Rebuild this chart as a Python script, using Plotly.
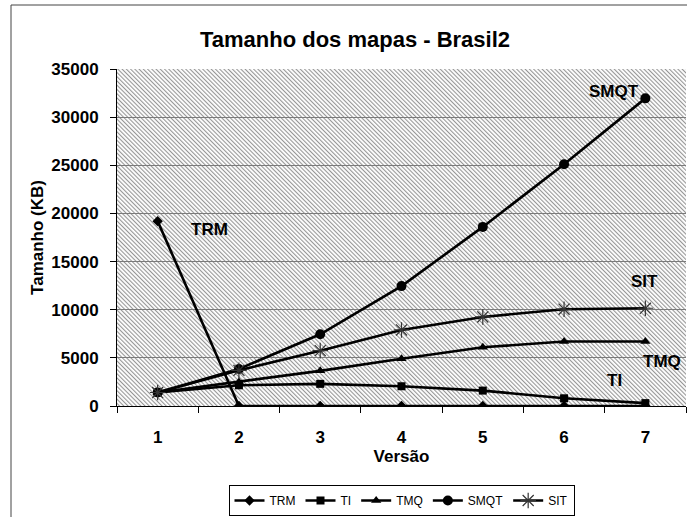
import base64
import plotly.graph_objects as go

versions = ["1", "2", "3", "4", "5", "6", "7"]
trm = [19200, 0, 0, 0, 0, 0, 0]
ti = [1400, 2150, 2300, 2050, 1600, 800, 300]
tmq = [1400, 2500, 3650, 4900, 6100, 6700, 6700]
smqt = [1400, 3850, 7450, 12450, 18600, 25100, 31950]
sit = [1400, 3700, 5750, 7900, 9250, 10050, 10150]

series_names = ["TRM", "TI", "TMQ", "SMQT", "SIT"]
series_values = [trm, ti, tmq, smqt, sit]
symbols = ["diamond", "square", "triangle-up", "circle", "asterisk-open"]
sizes = [8, 8, 9, 10, 13]

# label annotations: (text, category index, value)
labels = [("TRM", 0.64, 18300), ("SMQT", 5.62, 32700), ("SIT", 5.99, 12900),
          ("TMQ", 6.2, 4600), ("TI", 5.62, 2700)]

W, H = 687, 517
ML, MR, MT, MB = 117, 1, 69, 111
PW, PH = W - ML - MR, H - MT - MB

svg = (f'<svg xmlns="http://www.w3.org/2000/svg" width="{PW}" height="{PH}">'
       '<defs><pattern id="p" width="3" height="3" patternUnits="userSpaceOnUse" '
       'patternTransform="rotate(-45)"><rect width="3" height="3" fill="#ffffff"/>'
       '<rect width="1.1" height="3" fill="#969696"/></pattern></defs>'
       '<rect width="100%" height="100%" fill="url(#p)"/></svg>')
hatch = "data:image/svg+xml;base64," + base64.b64encode(svg.encode()).decode()

fig = go.Figure()
for name, vals, sym, sz in zip(series_names, series_values, symbols, sizes):
    if sym == "asterisk-open":
        marker = dict(symbol=sym, size=sz, color="#333333",
                      line=dict(color="#333333", width=1.2))
    else:
        marker = dict(symbol=sym, size=sz, color="black")
    fig.add_trace(go.Scatter(x=versions, y=vals, name=name, mode="lines+markers",
                             line=dict(color="black", width=2.6), marker=marker))

bold = dict(family="Liberation Sans, Arial, sans-serif", size=17, color="black", weight="bold")
for text, xi, yv in labels:
    fig.add_annotation(x=xi, y=yv, text=text, showarrow=False, font=bold,
                       xanchor="center", yanchor="middle")

fig.add_layout_image(source=hatch, xref="paper", yref="paper", x=0, y=1,
                     sizex=1, sizey=1, xanchor="left", yanchor="top",
                     sizing="stretch", layer="below")

# outer chart frame
fig.add_shape(type="rect", xref="paper", yref="paper",
              x0=(11 - ML) / PW, x1=1.02, y0=-0.36, y1=(PH + MT - 5) / PH,
              line=dict(color="#444444", width=1), fillcolor="rgba(0,0,0,0)", layer="below")

fig.update_layout(
    width=W, height=H,
    margin=dict(l=ML, r=MR, t=MT, b=MB, autoexpand=False),
    paper_bgcolor="white", plot_bgcolor="rgba(0,0,0,0)",
    title=dict(text="Tamanho dos mapas - Brasil2", xref="container", x=355 / W,
               xanchor="center", yref="container", y=1 - 39 / H, yanchor="middle",
               font=dict(family="Liberation Sans, Arial, sans-serif", size=22,
                         color="black", weight="bold")),
    showlegend=True,
    legend=dict(orientation="h", x=0.5, xanchor="center", y=(PH - (485 - MT)) / PH,
                yanchor="top",
                bordercolor="black", borderwidth=1, bgcolor="white",
                font=dict(family="Liberation Sans, Arial, sans-serif", size=12, color="black"),
                itemwidth=30, tracegroupgap=0),
    xaxis=dict(type="category", tickson="boundaries", ticks="outside", ticklen=6,
               tickcolor="black", showline=True, linecolor="black", linewidth=1,
               showgrid=False, tickfont=bold, ticklabelstandoff=16, automargin=False,
               title=dict(text="Versão", font=bold, standoff=0),
               range=[-0.5, 6.5]),
    yaxis=dict(range=[0, 35000], dtick=5000, tickformat="d", ticks="outside", ticklen=6,
               tickcolor="black", showline=True, linecolor="black", linewidth=1,
               showgrid=True, gridcolor="#7a7a7a", gridwidth=1, zeroline=False,
               tickfont=bold, ticklabelstandoff=8, automargin=False,
               title=dict(text="Tamanho (KB)", font=bold, standoff=3)),
)

fig.write_html("out.html", config={"displayModeBar": False},
               post_script="document.body.style.margin='0';document.body.style.overflow='hidden';")
